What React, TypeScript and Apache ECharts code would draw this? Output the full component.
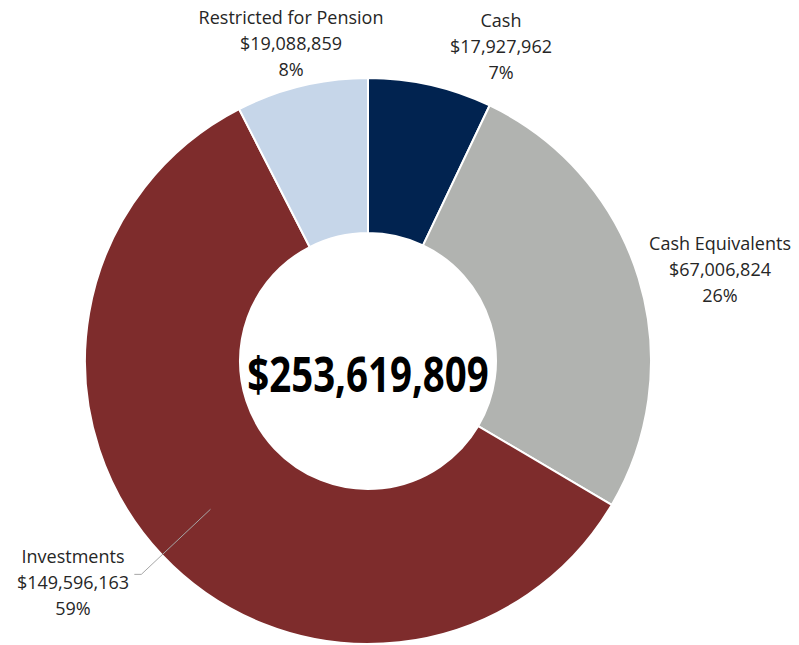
import React, { useEffect, useRef } from "react";
import * as echarts from "echarts";

const categories = ["Cash", "Cash Equivalents", "Investments", "Restricted for Pension"];
const values = [17927962, 67006824, 149596163, 19088859];
const percentLabels = ["7%", "26%", "59%", "8%"];
const totalLabel = "$253,619,809";
const colors = ["#012350", "#b1b3b0", "#7e2c2c", "#c6d6e9"];

const CX = 368;
const CY = 361;
const R_IN = 128;
const R_OUT = 283;
// label anchor positions (centre of each text block)
const labelPos: [number, number][] = [
  [501, 46],
  [720, 269],
  [73, 582],
  [291, 43],
];

const fmt = (v: number) => "$" + v.toLocaleString("en-US");

export default function App() {
  const ref = useRef<HTMLDivElement>(null);
  useEffect(() => {
    document.body.style.margin = "0";
    const chart = echarts.init(ref.current!, null, { renderer: "svg" });
    const total = values.reduce((a, b) => a + b, 0);
    let cum = 0;
    const mids: number[] = [];
    values.forEach((v) => {
      mids.push(((cum + v / 2) / total) * Math.PI * 2);
      cum += v;
    });
    const a = mids[2];
    const sx = CX + R_IN * 1.69 * Math.sin(a);
    const sy = CY - R_IN * 1.69 * Math.cos(a);
    const ex = CX + R_OUT * 1.1 * Math.sin(a);
    const ey = CY - R_OUT * 1.1 * Math.cos(a);
    chart.setOption({
      animation: false,
      backgroundColor: "#ffffff",
      graphic: [
        {
          type: "text",
          x: CX,
          y: CY + 13,
          scaleX: 0.8,
          z: 100,
          style: {
            text: totalLabel,
            x: 0,
            y: 0,
            align: "center",
            verticalAlign: "middle",
            fontFamily: "Open Sans",
            fontWeight: "bold",
            fontSize: 48,
            fill: "#000000",
          },
        },
        {
          type: "polyline",
          z: 100,
          shape: {
            points: [
              [sx, sy],
              [ex, ey],
              [ex - 7, ey],
            ],
          },
          style: { stroke: "#a6a6a6", lineWidth: 1, fill: "none" },
        },
      ],
      series: [
        {
          type: "pie",
          center: [CX, CY],
          radius: [R_IN, R_OUT],
          startAngle: 90,
          clockwise: true,
          avoidLabelOverlap: false,
          itemStyle: { borderColor: "#ffffff", borderWidth: 2 },
          label: {
            show: true,
            position: "outside",
            formatter: (p: any) =>
              `${p.name}\n${fmt(p.value)}\n${percentLabels[p.dataIndex]}`,
            fontFamily: "Open Sans",
            fontSize: 18,
            lineHeight: 26,
            color: "#262626",
            align: "center",
          },
          labelLine: { show: false },
          labelLayout: (params: any) => {
            const [x, y] = labelPos[params.dataIndex];
            return { x, y, align: "center", verticalAlign: "middle" };
          },
          data: categories.map((name, i) => ({
            name,
            value: values[i],
            itemStyle: { color: colors[i] },
          })),
        },
      ],
    });
    return () => chart.dispose();
  }, []);
  return <div ref={ref} style={{ width: 799, height: 645 }} />;
}
